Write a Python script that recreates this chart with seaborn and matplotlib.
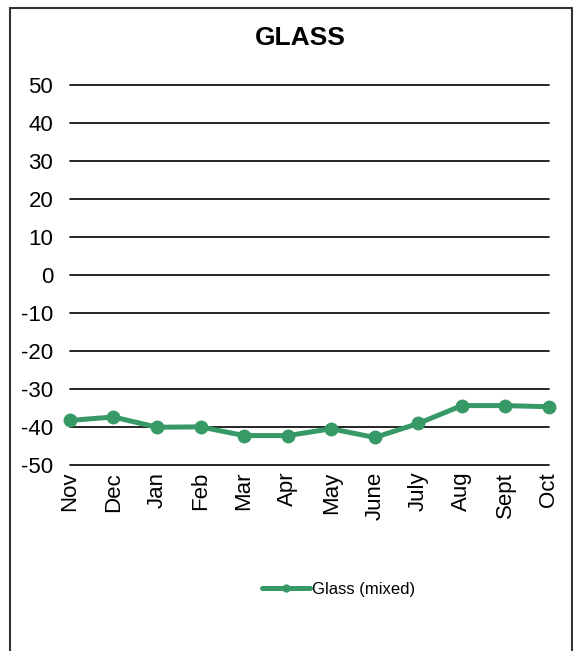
import matplotlib
matplotlib.use('Agg')
import matplotlib.pyplot as plt
import matplotlib.patches as patches
from matplotlib.lines import Line2D
import seaborn as sns
import pandas as pd

# data
months = ['Nov', 'Dec', 'Jan', 'Feb', 'Mar', 'Apr', 'May', 'June', 'July', 'Aug', 'Sept', 'Oct']
glass_mixed = [-38.3, -37.4, -40.1, -40.0, -42.3, -42.3, -40.5, -42.8, -39.1, -34.4, -34.4, -34.7]
y_ticks = [-50, -40, -30, -20, -10, 0, 10, 20, 30, 40, 50]

sns.set_style('white')
plt.rcParams['font.family'] = ['Liberation Sans', 'DejaVu Sans']
plt.rcParams['text.color'] = 'black'
plt.rcParams['xtick.color'] = 'black'
plt.rcParams['ytick.color'] = 'black'

green = '#379A66'

df = pd.DataFrame({'month': months, 'value': glass_mixed})
df['pos'] = range(len(months))

fig = plt.figure(figsize=(5.73, 6.51), dpi=100)
ax = fig.add_axes([0.122, 0.286, 0.836, 0.583])

for v in y_ticks:
    ax.axhline(v, color='black', lw=1.2, zorder=1, clip_on=False)

sns.lineplot(data=df, x='pos', y='value', ax=ax, color=green, lw=3.6,
             marker='o', markersize=10, markeredgewidth=0, zorder=3, clip_on=False)

ax.set_xlim(0, len(months) - 1)
ax.set_ylim(-50, 50)
ax.set_yticks(y_ticks)
ax.set_yticklabels([str(v) for v in y_ticks], fontsize=16)
ax.set_xticks(range(len(months)))
ax.set_xticklabels(months, rotation=90, fontsize=16)
ax.tick_params(axis='y', length=0, pad=12)
ax.tick_params(axis='x', length=0, pad=5)
ax.set_xlabel('')
ax.set_ylabel('')
for s in ax.spines.values():
    s.set_visible(False)
ax.set_facecolor('none')

fig.text(0.524, 0.941, 'GLASS', ha='center', va='center', fontsize=19, fontweight='bold')

handle = Line2D([], [], color=green, lw=3.6, marker='o', markersize=6, markeredgewidth=0)
fig.legend([handle], ['Glass (mixed)'], loc='center', bbox_to_anchor=(0.59, 0.094),
           frameon=False, fontsize=12, handlelength=2.9, handletextpad=0.1)

# outer frame (open at the bottom, as in the reference)
frame = patches.Rectangle((10 / 573, -0.05), 562 / 573, 1.05 - 8 / 651,
                          transform=fig.transFigure, fill=False,
                          edgecolor='#333333', lw=1.5)
fig.patches.append(frame)

fig.savefig('out.png', dpi=100)
